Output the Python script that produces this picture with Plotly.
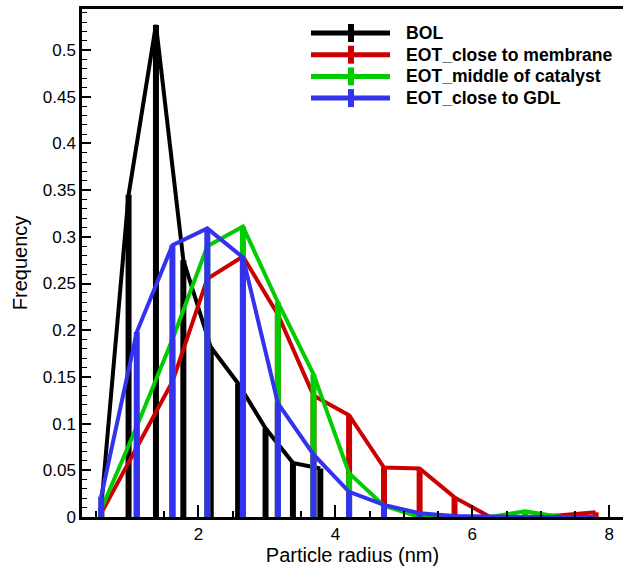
import plotly.graph_objects as go

# ---- data ----
series_names = ["BOL", "EOT_close to membrane", "EOT_middle of catalyst", "EOT_close to GDL"]
series_colors = ["#000000", "#cc0000", "#00cc00", "#3333ee"]

bol_x = [0.58, 0.98, 1.38, 1.78, 2.18, 2.58, 2.98, 3.38, 3.78]
bol_y = [0.01, 0.345, 0.527, 0.275, 0.182, 0.143, 0.095, 0.058, 0.052]

eot_x = [0.58, 1.10, 1.62, 2.13, 2.65, 3.16, 3.68, 4.20, 4.71, 5.23, 5.74, 6.26, 6.77, 7.29, 7.80]
membrane_y = [0.004, 0.075, 0.145, 0.255, 0.279, 0.217, 0.130, 0.109, 0.053, 0.052, 0.021, 0.0, 0.0, 0.002, 0.005]
middle_y = [0.008, 0.097, 0.190, 0.290, 0.311, 0.230, 0.153, 0.047, 0.012, 0.0, 0.0, 0.0, 0.006, 0.0, 0.0]
gdl_y = [0.022, 0.198, 0.291, 0.309, 0.278, 0.122, 0.067, 0.027, 0.013, 0.004, 0.001, 0.0, 0.0, 0.0, 0.0]

x_tick_vals = [2, 4, 6, 8]
y_tick_vals = [0, 0.05, 0.1, 0.15, 0.2, 0.25, 0.3, 0.35, 0.4, 0.45, 0.5]
y_tick_text = ["0", "0.05", "0.1", "0.15", "0.2", "0.25", "0.3", "0.35", "0.4", "0.45", "0.5"]

xs = [bol_x, eot_x, eot_x, eot_x]
ys = [bol_y, membrane_y, middle_y, gdl_y]

W, H = 623, 576
ML, MR, MT, MB = 82, 0, 9, 59
FONT = "Liberation Sans, Arial, sans-serif"

fig = go.Figure()
for name, color, x, y in zip(series_names, series_colors, xs, ys):
    fig.add_trace(go.Scatter(
        x=x, y=y, mode="lines", name=name, showlegend=False,
        line=dict(color=color, width=4),
        error_y=dict(type="data", symmetric=False, array=[0] * len(y), arrayminus=y,
                     width=0, thickness=6, color=color),
    ))

# manual legend (styling only)
pw = W - ML - MR
ph = H - MT - MB
def px2paper(xp, yp):
    return (xp - ML) / pw, (H - MB - yp) / ph

shapes = []
annotations = []
for i, (name, color) in enumerate(zip(series_names, series_colors)):
    yrow = 33 + 21.7 * i
    x0, y0 = px2paper(311, yrow)
    x1, _ = px2paper(390, yrow)
    xm, _ = px2paper(351, yrow)
    _, ytop = px2paper(351, yrow - 9)
    _, ybot = px2paper(351, yrow + 9)
    xt, _ = px2paper(404, yrow)
    shapes.append(dict(type="line", xref="paper", yref="paper", x0=x0, x1=x1, y0=y0, y1=y0,
                       line=dict(color=color, width=5)))
    shapes.append(dict(type="line", xref="paper", yref="paper", x0=xm, x1=xm, y0=ybot, y1=ytop,
                       line=dict(color=color, width=6)))
    annotations.append(dict(xref="paper", yref="paper", x=xt, y=y0, text="<b>%s</b>" % name,
                            showarrow=False, xanchor="left", yanchor="middle",
                            font=dict(family=FONT, size=17.6, color="#000000")))

fig.update_layout(
    width=W, height=H,
    margin=dict(l=ML, r=MR, t=MT, b=MB, pad=0, autoexpand=False),
    paper_bgcolor="white", plot_bgcolor="white",
    font=dict(family=FONT, color="#000000"),
    shapes=shapes, annotations=annotations,
    showlegend=False,
)
fig.update_xaxes(
    automargin=False,
    range=[0.3, 8.2], tickvals=x_tick_vals, ticks="inside", ticklen=12, tickwidth=2,
    tickcolor="black", showline=True, linewidth=2.5, linecolor="black", mirror=True,
    showgrid=False, zeroline=False, tickfont=dict(size=17, family=FONT),
    minor=dict(dtick=0.5, tick0=0, ticks="inside", ticklen=6, tickwidth=1.5, tickcolor="black"),
    title=dict(text="Particle radius (nm)", font=dict(size=20, family=FONT), standoff=0),
)
fig.update_yaxes(
    automargin=False,
    range=[0, 0.544], tickvals=y_tick_vals, ticktext=y_tick_text, ticks="inside", ticklen=9,
    tickwidth=2, tickcolor="black", showline=True, linewidth=2.5, linecolor="black",
    showgrid=False, zeroline=False, tickfont=dict(size=17, family=FONT),
    minor=dict(dtick=0.01, tick0=0, ticks="inside", ticklen=5, tickwidth=1, tickcolor="black"),
    title=dict(text="Frequency", font=dict(size=20, family=FONT), standoff=10),
)

fig.write_html("out.html", config={"displayModeBar": False},
               post_script="document.body.style.margin='0';")
